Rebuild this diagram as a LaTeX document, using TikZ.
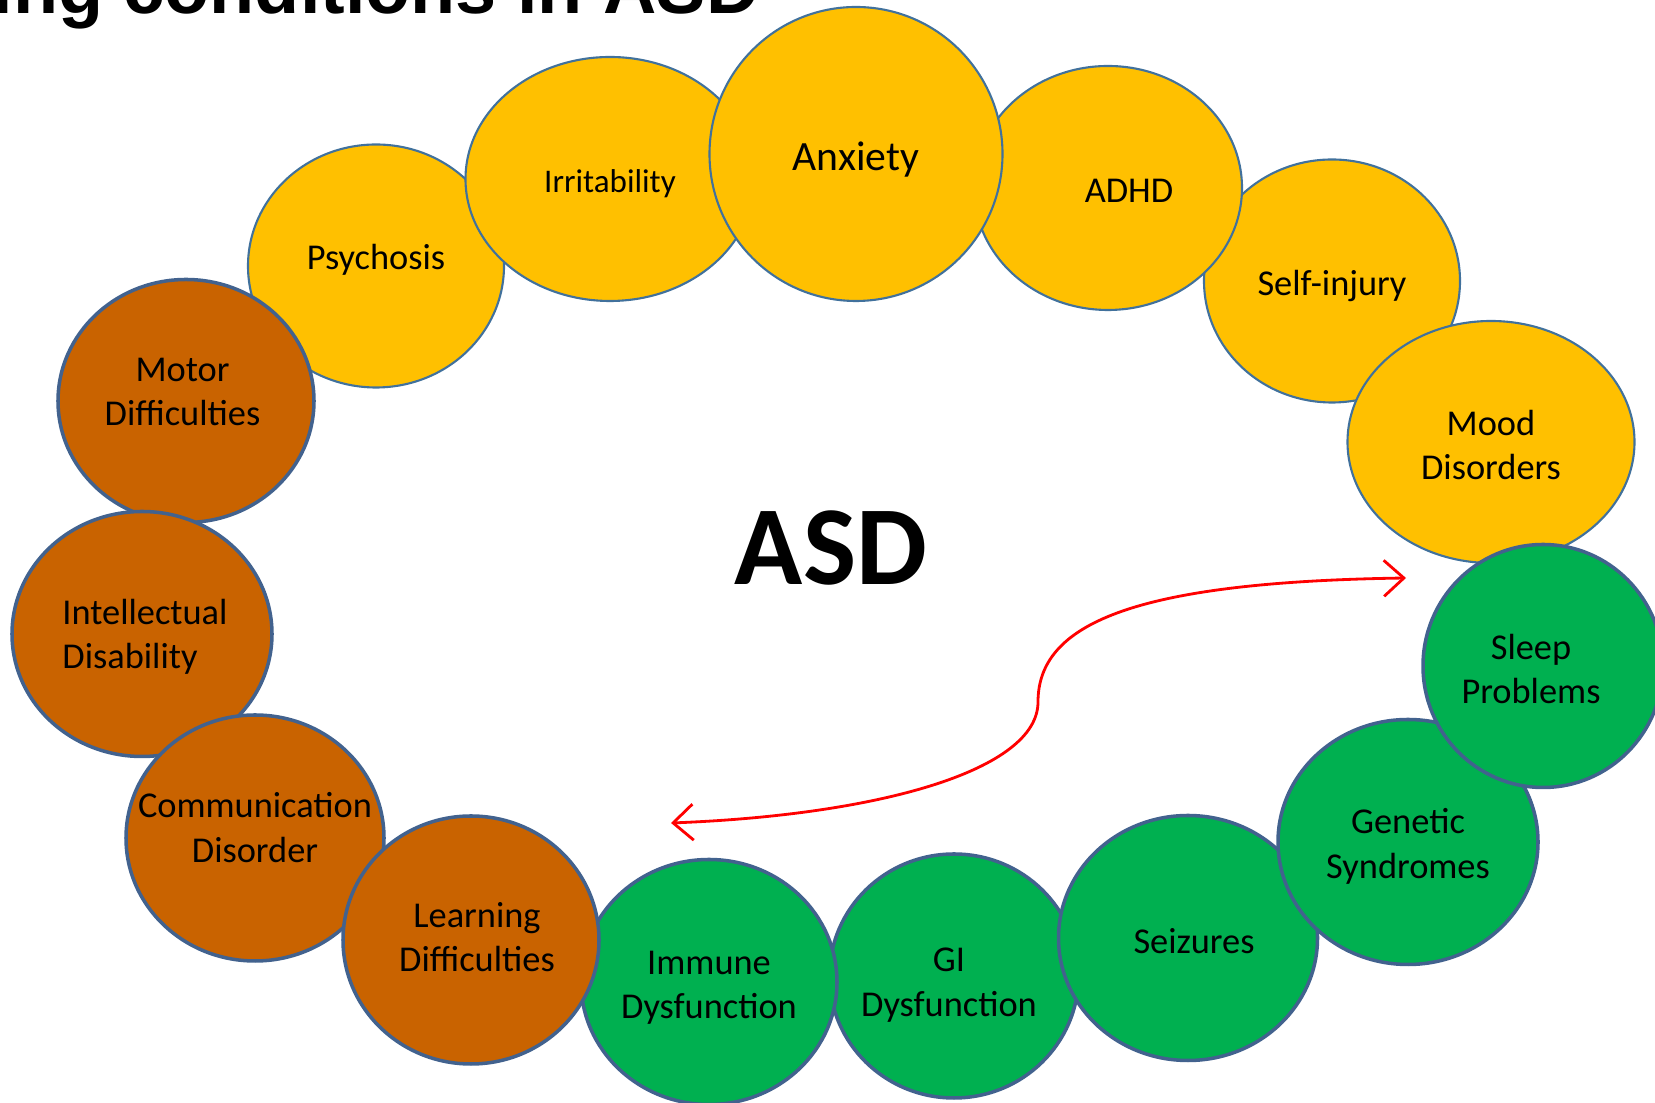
\documentclass[tikz,border=0pt]{standalone}
\usepackage{fontspec}
\setmainfont{Carlito}
\newfontfamily\headfont{Liberation Sans}
\usepackage{tikz}
\usetikzlibrary{shapes.geometric}
\usetikzlibrary{arrows.meta}

\definecolor{bubyellow}{HTML}{FFC000}
\definecolor{buborange}{HTML}{C96300}
\definecolor{bubgreen}{HTML}{00B050}
\definecolor{rimthin}{HTML}{41719C}
\definecolor{rimthick}{HTML}{42628E}
\definecolor{linkred}{HTML}{FF0000}

\tikzset{
	bubble/.style={ellipse, inner sep=0pt},
	yel/.style={bubble, fill=bubyellow, draw=rimthin, line width=0.6pt},
	ora/.style={bubble, fill=buborange, draw=rimthick, line width=1pt},
	grn/.style={bubble, fill=bubgreen, draw=rimthick, line width=1pt},
	dims/.style 2 args={minimum width=#1*0.1mm, minimum height=#2*0.1mm},
	txt/.style={align=center, inner sep=0pt, yshift=-0.3mm, font=\fontsize{10.35}{12.6}\selectfont},
	link/.style={draw=linkred, line width=0.8pt, {Straight Barb[length=2mm,width=3.6mm]}-{Straight Barb[length=2mm,width=3.6mm]}}
}

\begin{document}
\begin{tikzpicture}[x=0.1mm, y=-0.1mm]
	\useasboundingbox (0,0) rectangle (1655,1103);
	
	% Heading (cut off at the top)
	\node [anchor=base east, inner sep=0pt, font=\headfont\bfseries\fontsize{21}{25}\selectfont] (title) at (760,14) {ing conditions in ASD};
	
	% Ring, drawn back to front
	\node [yel, dims={256}{243}, label={[txt, name=psyT, yshift=0.95mm]center:Psychosis}] (psy) at (376,266) {};
	\node [yel, dims={289}{244}, label={[txt, name=irrT, yshift=-0.2mm, font=\fontsize{9.4}{11}\selectfont]center:Irritability}] (irr) at (610,179) {};
	\node [ora, dims={256}{243}, label={[txt, name=motorT, xshift=-0.35mm, yshift=1.2mm]center:Motor\\Difficulties}] (motor) at (186,401) {};
	\node [ora, dims={260}{245}, label={[txt, name=intelT, align=left, xshift=0.3mm]center:Intellectual\\Disability}] (intel) at (142,634) {};
	\node [ora, dims={258}{246}, label={[txt, name=commT, yshift=1.35mm]center:Communication\\Disorder}] (comm) at (255,838) {};
	\node [grn, dims={249}{244}, label={[txt, name=giT, xshift=-0.5mm, yshift=-0.6mm]center:GI\\Dysfunction}] (gi) at (954,976) {};
	\node [grn, dims={256}{245}, label={[txt, name=immT, yshift=-0.25mm]center:Immune\\Dysfunction}] (imm) at (709,982) {};
	\node [ora, dims={256}{248}, label={[txt, name=learnT, xshift=0.6mm, yshift=0.6mm]center:Learning\\Difficulties}] (learn) at (471,940) {};
	\node [grn, dims={259}{245}, label={[txt, name=seizT, xshift=0.6mm]center:Seizures}] (seiz) at (1188,938) {};
	\node [grn, dims={260}{245}, label={[txt, name=genT, yshift=-0.15mm]center:Genetic\\Syndromes}] (gen) at (1408,842) {};
	\node [yel, dims={256}{243}, label={[txt, name=selfT, yshift=-0.2mm]center:Self-injury}] (self) at (1332,281) {};
	\node [yel, dims={287}{242}, label={[txt, name=moodT]center:Mood\\Disorders}] (mood) at (1491,442) {};
	\node [grn, dims={240}{243}, label={[txt, name=sleepT, xshift=-1.2mm]center:Sleep\\Problems}] (sleep) at (1543,666) {};
	\node [yel, dims={268}{244}, label={[txt, name=adhdT, xshift=2.1mm]center:ADHD}] (adhd) at (1108,188) {};
	\node [yel, dims={293}{294}, label={[txt, name=anxT, yshift=-0.25mm, font=\fontsize{11.85}{14}\selectfont]center:Anxiety}] (anx) at (856,154) {};
	
	% Middle
	\node [font=\bfseries\fontsize{32}{38}\selectfont, inner sep=0pt] (asd) at (831,548) {ASD};
	
	% Two-way arrow
	\coordinate (linkL) at (671,823);
	\coordinate (linkM) at (1038,702);
	\coordinate (linkR) at (1406,578);
	\draw [link] (linkL) .. controls (880,815) and (1038,770) .. (linkM) .. controls (1038,625) and (1130,582) .. (linkR);
	
\end{tikzpicture}
\end{document}
